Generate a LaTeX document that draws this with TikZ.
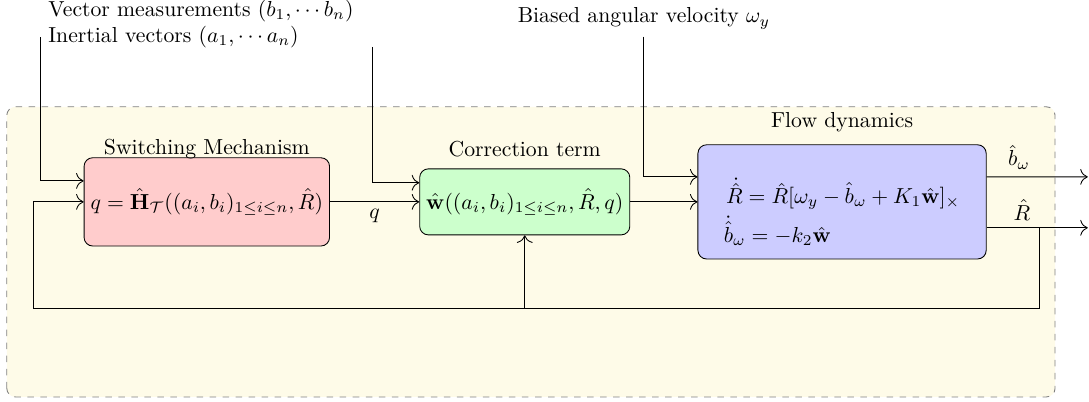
\documentclass[tikz,border=0pt]{standalone}
\usepackage{amsmath, amssymb}
\usepackage[dvipsnames, svgnames]{xcolor}
\usepackage{tikz}
\usetikzlibrary{arrows.meta,positioning}

\definecolor{bgcream}{RGB}{254,251,232}
\tikzset{block/.style={draw, rounded corners, inner sep=3pt}}

\begin{document}
\begin{tikzpicture}[>={To[scale=1.4]},scale=1]
    \useasboundingbox (0,0) rectangle (17.64,6.51);
    \draw[dashed, gray, fill=bgcream, rounded corners] (0.11,0.08) rectangle (17.09,4.78);

    \node[anchor=base west] (vecm) at (0.66,6.24) {Vector measurements \((b_1,\cdots b_n)\)};
    \node[anchor=base west] (inertv) at (0.66,5.82) {Inertial vectors \((a_1,\cdots a_n)\)};
    \node[anchor=base] (biased) at (10.43,6.14) {Biased angular velocity \(\omega_y\)};

    \node[block, fill=red!20, minimum width=3.89cm, minimum height=1.43cm] (sw) at (3.35,3.24)
        {\(q=\hat{\mathbf{H}}_{\mathcal{T}}((a_i,b_i)_{1\leq i\leq n},\hat{R})\)};
    \node[block, fill=green!20, minimum width=3.32cm, minimum height=1.07cm] (corr) at (8.50,3.24)
        {\(\hat{\mathbf{w}}((a_i,b_i)_{1\leq i\leq n},\hat{R},q)\)};
    \node[block, fill=blue!20, minimum width=4.67cm, minimum height=1.85cm, align=left] (flow) at (13.64,3.24)
        {\rule{0pt}{21pt}\hspace{1pt}\(\dot{\hat{R}}=\hat{R}[\omega_y-\hat{b}_\omega+K_1\hat{\mathbf{w}}]_\times\)\\[2pt]
         \(\dot{\hat{b}}_\omega=-k_2\hat{\mathbf{w}}\)};

    \node[anchor=base] (swt) at (3.35,4.00) {Switching Mechanism};
    \node[anchor=base] (corrt) at (8.50,3.97) {Correction term};
    \node[anchor=base] (flowt) at (13.64,4.44) {Flow dynamics};

    \coordinate (inq) at (6.04,5.75);
    \coordinate (outb) at (17.62,3.645);
    \coordinate (outR) at (17.62,2.82);
    \coordinate (tap) at (16.83,2.82);
    \coordinate (fbr) at (16.83,1.52);
    \coordinate (fbl) at (0.535,1.52);

    \draw[->] (inertv.west) |- ([yshift=0.34cm]sw.west);
    \draw[->] (inq) |- ([yshift=0.31cm]corr.west);
    \draw[->] (biased.south) |- ([yshift=0.405cm]flow.west);
    \draw[->] (sw) -- node[below] {\(q\)} (corr);
    \draw[->] (corr) -- (flow);
    \draw[->] ([yshift=0.405cm]flow.east) -- node[pos=0.32, above] {\(\hat{b}_\omega\)} (outb);
    \draw[->] ([yshift=-0.42cm]flow.east) -- node[pos=0.35, above] {\(\hat{R}\)} (outR);
    \draw[->] (tap) -- (fbr) -- (fbl) |- (sw.west);
    \draw[->] (corr.south |- fbl) -- (corr.south);
\end{tikzpicture}
\end{document}
